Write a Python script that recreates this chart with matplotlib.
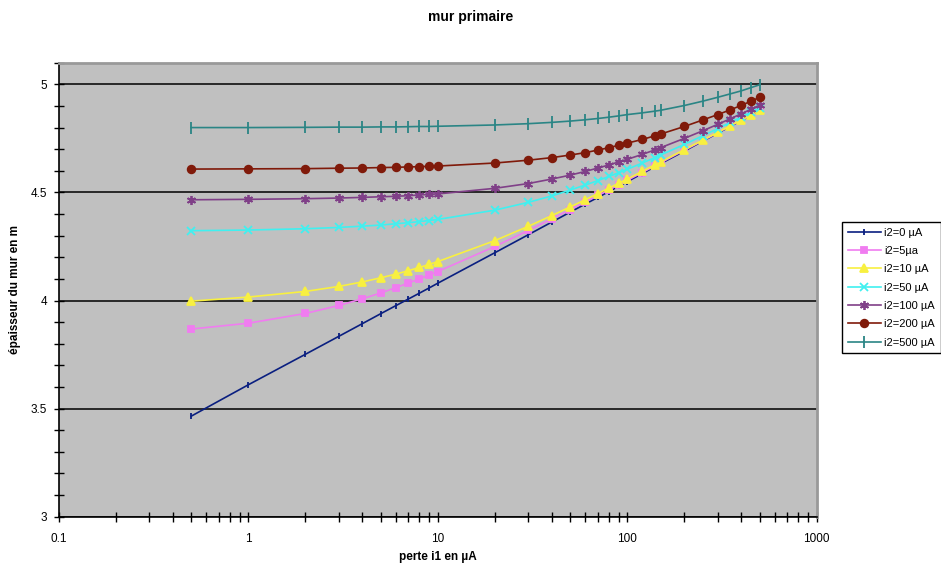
import matplotlib
matplotlib.use('Agg')
import matplotlib.pyplot as plt
from matplotlib.ticker import MultipleLocator, LogLocator, FixedLocator, FixedFormatter

plt.rcParams['font.family'] = ['Liberation Sans', 'DejaVu Sans']

# perte i1 (µA)
i1 = [0.5, 1, 2, 3, 4, 5, 6, 7, 8, 9, 10, 20, 30, 40, 50, 60, 70, 80, 90, 100,
      120, 140, 150, 200, 250, 300, 350, 400, 450, 500]

ep_0 = [3.465, 3.61, 3.751, 3.834, 3.893, 3.939, 3.976, 4.007, 4.034, 4.058, 4.08,
        4.221, 4.304, 4.363, 4.409, 4.446, 4.477, 4.504, 4.528, 4.55,
        4.587, 4.619, 4.633, 4.691, 4.737, 4.774, 4.806, 4.833, 4.857, 4.879]
ep_5 = [3.868, 3.895, 3.94, 3.977, 4.008, 4.035, 4.059, 4.081, 4.1, 4.118, 4.134,
        4.25, 4.324, 4.378, 4.421, 4.456, 4.486, 4.512, 4.535, 4.556,
        4.592, 4.623, 4.637, 4.695, 4.739, 4.776, 4.808, 4.834, 4.858, 4.88]
ep_10 = [3.997, 4.016, 4.042, 4.065, 4.086, 4.105, 4.122, 4.138, 4.153, 4.167, 4.18,
         4.277, 4.343, 4.393, 4.433, 4.466, 4.495, 4.52, 4.542, 4.562,
         4.597, 4.628, 4.641, 4.698, 4.742, 4.778, 4.809, 4.836, 4.86, 4.881]
ep_50 = [4.323, 4.326, 4.332, 4.338, 4.344, 4.349, 4.355, 4.36, 4.365, 4.37, 4.375,
         4.418, 4.454, 4.484, 4.511, 4.534, 4.555, 4.574, 4.591, 4.607,
         4.636, 4.661, 4.673, 4.722, 4.762, 4.795, 4.824, 4.849, 4.871, 4.891]
ep_100 = [4.466, 4.468, 4.471, 4.474, 4.477, 4.48, 4.482, 4.485, 4.488, 4.491, 4.493,
          4.519, 4.541, 4.562, 4.58, 4.597, 4.613, 4.627, 4.641, 4.653,
          4.676, 4.697, 4.707, 4.75, 4.785, 4.815, 4.841, 4.864, 4.885, 4.904]
ep_200 = [4.608, 4.609, 4.61, 4.612, 4.613, 4.615, 4.616, 4.618, 4.619, 4.621, 4.622,
          4.636, 4.649, 4.661, 4.673, 4.684, 4.696, 4.707, 4.718, 4.728,
          4.745, 4.762, 4.77, 4.805, 4.835, 4.86, 4.882, 4.903, 4.922, 4.94]
ep_500 = [4.8, 4.8, 4.801, 4.802, 4.802, 4.803, 4.803, 4.804, 4.805, 4.805, 4.806,
          4.812, 4.818, 4.824, 4.83, 4.836, 4.842, 4.848, 4.854, 4.86,
          4.868, 4.876, 4.88, 4.902, 4.922, 4.94, 4.956, 4.97, 4.985, 4.998]

labels = ['i2=0 µA', 'i2=5µa', 'i2=10 µA', 'i2=50 µA', 'i2=100 µA', 'i2=200 µA', 'i2=500 µA']
series = [ep_0, ep_5, ep_10, ep_50, ep_100, ep_200, ep_500]
colors = ['#0a1f80', '#f07cf0', '#f8f040', '#40f0f0', '#804088', '#801a0a', '#2a8585']
markers = ['|', 's', '^', 'x', (6, 2, 0), 'o', '|']
msizes = [5, 5, 5.5, 5.5, 6.5, 5.5, 8]

fig = plt.figure(figsize=(9.41, 5.67), dpi=100)
ax = fig.add_axes([0.0624, 0.0887, 0.8056, 0.8007])
ax.set_facecolor('#c0c0c0')

for ys, lab, c, m, ms in zip(series, labels, colors, markers, msizes):
    ax.plot(i1, ys, color=c, marker=m, markersize=ms, linewidth=1.2,
            markeredgewidth=1.3, label=lab)

ax.set_xscale('log')
ax.set_xlim(0.1, 1000)
ax.set_ylim(3, 5.1)

ax.xaxis.set_major_locator(FixedLocator([0.1, 1, 10, 100, 1000]))
ax.xaxis.set_major_formatter(FixedFormatter(['0.1', '1', '10', '100', '1000']))
ax.xaxis.set_minor_locator(LogLocator(base=10, subs=range(2, 10)))
ax.xaxis.set_minor_formatter(plt.NullFormatter())
ax.yaxis.set_major_locator(FixedLocator([3, 3.5, 4, 4.5, 5]))
ax.yaxis.set_major_formatter(FixedFormatter(['3', '3.5', '4', '4.5', '5']))
ax.yaxis.set_minor_locator(MultipleLocator(0.1))

ax.tick_params(which='both', direction='inout', length=7, width=1, labelsize=8.5,
               color='black')
ax.tick_params(axis='x', pad=8)
ax.tick_params(axis='y', pad=5)
ax.grid(axis='y', which='major', color='black', linewidth=1.1)

for s in ['left', 'bottom']:
    ax.spines[s].set_color('black')
    ax.spines[s].set_linewidth(1.2)
for s in ['top', 'right']:
    ax.spines[s].set_color('#999999')
    ax.spines[s].set_linewidth(2)

fig.text(0.4653, 0.018, 'perte i1 en µA', ha='center', va='center', fontsize=8.5,
         fontweight='bold')
ax.set_ylabel('épaisseur du mur en m', fontsize=8.5, fontweight='bold', labelpad=7)
fig.text(0.5, 0.97, 'mur primaire', ha='center', va='center', fontsize=10,
         fontweight='bold')

leg = ax.legend(loc='upper left', bbox_to_anchor=(0.895, 0.6085),
                bbox_transform=fig.transFigure, borderaxespad=0, fontsize=8,
                fancybox=False, framealpha=1, edgecolor='black',
                handlelength=3, labelspacing=0.75, borderpad=0.5, handletextpad=0.3)
leg.get_frame().set_linewidth(1)

fig.savefig('out.png', dpi=100)
